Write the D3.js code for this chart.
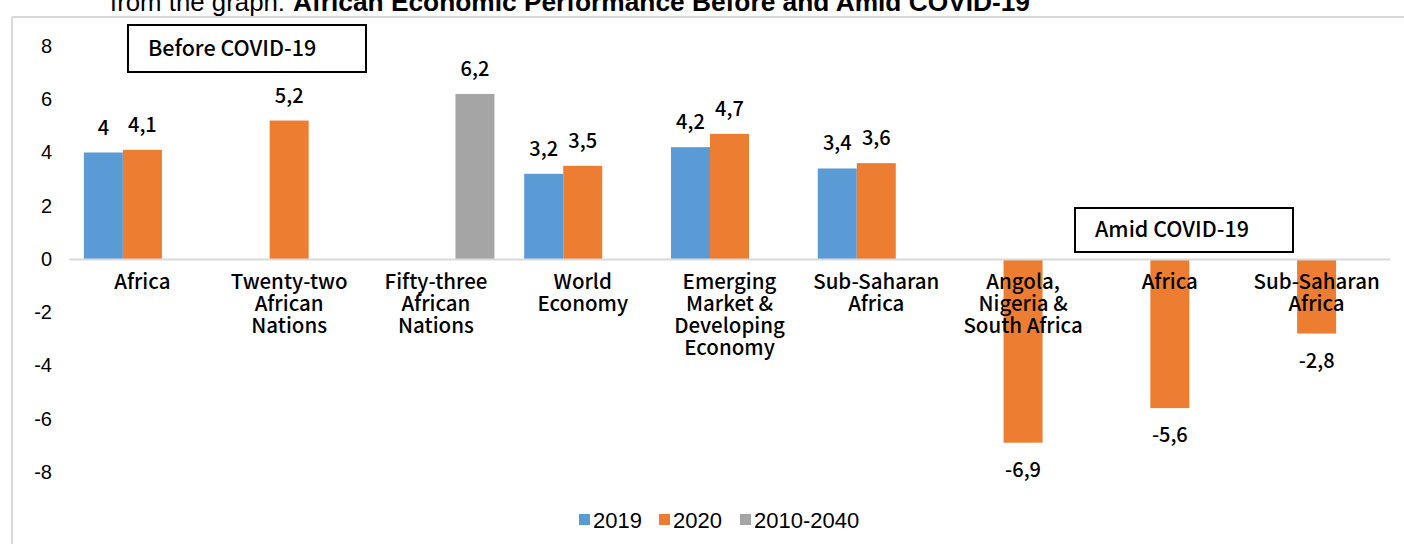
<!DOCTYPE html>
<html>
<head>
<meta charset="utf-8">
<script src="https://cdn.jsdelivr.net/npm/d3@7"></script>
<style>
  body { margin: 0; background: #fff; }
  svg { display: block; }
</style>
</head>
<body>
<svg id="chart"></svg>
<script>
// chart data
const categoryKeys = ["c0", "c1", "c2", "c3", "c4", "c5", "c6", "c7", "c8"]
const categoryLabels = [
    ["Africa"],
    ["Twenty-two", "African", "Nations"],
    ["Fifty-three", "African", "Nations"],
    ["World", "Economy"],
    ["Emerging", "Market &", "Developing", "Economy"],
    ["Sub-Saharan", "Africa"],
    ["Angola,", "Nigeria &", "South Africa"],
    ["Africa"],
    ["Sub-Saharan", "Africa"]
]
const seriesNames = ["2019", "2020", "2010-2040"]
const values2019 = [4, null, null, 3.2, 4.2, 3.4, null, null, null]
const values2020 = [4.1, 5.2, null, 3.5, 4.7, 3.6, -6.9, -5.6, -2.8]
const values2010to2040 = [null, null, 6.2, null, null, null, null, null, null]
const yTicks = [-8, -6, -4, -2, 0, 2, 4, 6, 8]
const colors = ["#5b9bd5", "#ed7d31", "#a5a5a5"]

const width = 1404
const height = 544
const svg = d3.select("#chart").attr("width", width).attr("height", height)

const allSeries = [values2019, values2020, values2010to2040]
let bars = []
allSeries.forEach((vals, si) => {
    vals.forEach((v, ci) => {
        if (v !== null) bars.push({cat: categoryKeys[ci], series: seriesNames[si], value: v, color: colors[si]})
    })
})

const x0 = d3.scaleBand().domain(categoryKeys).range([69, 1390]).padding(0)
const x1 = d3.scaleBand().domain(seriesNames).range([0, x0.bandwidth()]).paddingInner(0).paddingOuter(0.382)
const y = d3.scaleLinear().domain([-8, 8]).range([472, 46])

const sansFont = "'Liberation Sans', Arial, sans-serif"
const cjkFont = "'Noto Sans CJK SC', 'Noto Sans', sans-serif"

// frame lines
svg.append("line").attr("x1", 12).attr("x2", width).attr("y1", 17).attr("y2", 17)
    .attr("stroke", "#d9d9d9").attr("stroke-width", 2)
svg.append("line").attr("x1", 12).attr("x2", 12).attr("y1", 17).attr("y2", height)
    .attr("stroke", "#d9d9d9").attr("stroke-width", 2)

// clipped heading above the frame
svg.append("text").text("from the graph:")
    .attr("x", 110).attr("y", 11)
    .attr("font-family", sansFont).attr("font-size", 26)
    .attr("textLength", 175).attr("lengthAdjust", "spacingAndGlyphs")
    .attr("fill", "#000")
svg.append("text").text("African Economic Performance Before and Amid COVID-19")
    .attr("x", 293).attr("y", 11)
    .attr("font-family", sansFont).attr("font-size", 26).attr("font-weight", "bold")
    .attr("textLength", 737).attr("lengthAdjust", "spacingAndGlyphs")
    .attr("fill", "#000")

// y axis labels
const yAxis = d3.axisLeft(y).tickValues(yTicks).tickSize(0).tickPadding(0).tickFormat(d => String(d))
svg.append("g").attr("transform", "translate(52,0)").call(yAxis)
    .call(g => g.select(".domain").remove())
    .selectAll("text")
    .attr("font-family", sansFont).attr("font-size", 20).attr("fill", "#000")

// bars
svg.append("g").selectAll("rect")
    .data(bars)
    .join("rect")
    .attr("x", d => x0(d.cat) + x1(d.series))
    .attr("width", x1.bandwidth())
    .attr("y", d => Math.min(y(d.value), y(0)))
    .attr("height", d => Math.abs(y(d.value) - y(0)))
    .attr("fill", d => d.color)

// value labels
svg.append("g").selectAll("text")
    .data(bars)
    .join("text")
    .text(d => String(d.value).replace(".", ","))
    .attr("x", d => x0(d.cat) + x1(d.series) + x1.bandwidth() / 2)
    .attr("y", d => d.value >= 0 ? y(d.value) - 18 : y(d.value) + 34)
    .attr("text-anchor", "middle")
    .attr("font-family", cjkFont).attr("font-size", 20).attr("font-weight", 500)
    .attr("fill", "#000")

// x axis at zero with wrapped category labels
const xAxis = d3.axisBottom(x0).tickSize(0).tickSizeOuter(0).tickFormat("")
const xg = svg.append("g").attr("transform", `translate(0,${y(0)})`).call(xAxis)
xg.select(".domain").attr("stroke", "#d9d9d9").attr("stroke-width", 2)
xg.selectAll(".tick text").remove()
xg.selectAll(".tick").each(function(d, i) {
    const t = d3.select(this).append("text")
        .attr("text-anchor", "middle")
        .attr("font-family", cjkFont).attr("font-size", 20.5).attr("font-weight", 500)
        .attr("fill", "#000")
    categoryLabels[i].forEach((line, li) => {
        t.append("tspan").attr("x", 0).attr("y", 30 + li * 22).text(line)
    })
})

// annotation boxes
const notes = [
    {text: "Before COVID-19", x: 128, y: 25, w: 238, h: 47},
    {text: "Amid COVID-19", x: 1075, y: 208, w: 218, h: 44}
]
const noteG = svg.append("g").selectAll("g").data(notes).join("g")
noteG.append("rect")
    .attr("x", d => d.x).attr("y", d => d.y).attr("width", d => d.w).attr("height", d => d.h)
    .attr("fill", "#fff").attr("stroke", "#000").attr("stroke-width", 2)
noteG.append("text").text(d => d.text)
    .attr("x", d => d.x + 20).attr("y", d => d.y + d.h / 2 + 7)
    .attr("font-family", cjkFont).attr("font-size", 21.5).attr("font-weight", 500)
    .attr("fill", "#000")

// legend
const legendItems = [
    {name: "2019", color: colors[0], x: 579},
    {name: "2020", color: colors[1], x: 659},
    {name: "2010-2040", color: colors[2], x: 740}
]
const lg = svg.append("g").selectAll("g").data(legendItems).join("g")
lg.append("rect").attr("x", d => d.x).attr("y", 514).attr("width", 11).attr("height", 11).attr("fill", d => d.color)
lg.append("text").text(d => d.name)
    .attr("x", d => d.x + 14).attr("y", 528)
    .attr("font-family", sansFont).attr("font-size", 22).attr("fill", "#000")
</script>
</body>
</html>
